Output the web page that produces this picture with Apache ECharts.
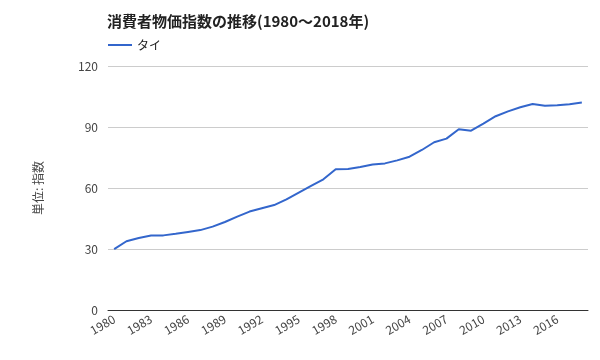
<!DOCTYPE html>
<html><head><meta charset="utf-8">
<script src="https://cdn.jsdelivr.net/npm/echarts@6/dist/echarts.min.js"></script>
<style>html,body{margin:0;padding:0;background:#fff}#c{width:600px;height:360px}</style>
</head><body><div id="c"></div>
<script>
const years = [];
for (let y = 1980; y <= 2018; y++) years.push(String(y));
const thaiCPI = [29.9,33.8,35.4,36.6,36.7,37.5,38.4,39.3,41.0,43.3,45.9,48.4,50.0,51.6,54.4,57.7,61.0,64.3,69.2,69.3,
  70.3,71.6,72.1,73.6,75.4,78.7,82.5,84.3,88.9,88.2,91.7,95.3,97.7,99.7,101.3,100.5,100.7,101.2,102.0];
const yTicks = [0,30,60,90,120];
const titleText = '消費者物価指数の推移(1980～2018年)';
const seriesName = 'タイ';
const yName = '単位: 指数';

const font = '"Noto Sans CJK JP", "Noto Sans", sans-serif';
const chart = echarts.init(document.getElementById('c'));
chart.setOption({
  animation: false,
  textStyle: {fontFamily: font},
  title: {text: titleText, left: 102, top: 9,
    textStyle: {fontSize: 15, fontWeight: 'bold', color: '#222', fontFamily: font}},
  legend: {left: 103, top: 34, itemWidth: 24, itemHeight: 2, itemGap: 7,
    icon: 'rect', textStyle: {fontSize: 12, color: '#222', fontFamily: font},
    data: [seriesName]},
  grid: {left: 108, right: 12, top: 66, bottom: 50, containLabel: false},
  xAxis: {type: 'category', data: years, boundaryGap: true,
    axisLine: {lineStyle: {color: '#333', width: 1}},
    axisTick: {show: false},
    axisLabel: {interval: 2, rotate: 30, color: '#444', fontSize: 12, margin: 8, fontFamily: font}},
  yAxis: {type: 'value', min: yTicks[0], max: yTicks[yTicks.length-1], interval: 30,
    name: yName, nameLocation: 'middle', nameGap: 64, nameRotate: 90,
    nameTextStyle: {color: '#444', fontSize: 12, fontFamily: font},
    axisLine: {show: false}, axisTick: {show: false},
    axisLabel: {color: '#444', fontSize: 12, margin: 10, fontFamily: font},
    splitLine: {lineStyle: {color: '#ccc', width: 1}}},
  series: [{name: seriesName, type: 'line', data: thaiCPI, showSymbol: false, symbol: 'none',
    lineStyle: {color: '#3366cc', width: 2}, itemStyle: {color: '#3366cc'}}]
});
</script></body></html>
